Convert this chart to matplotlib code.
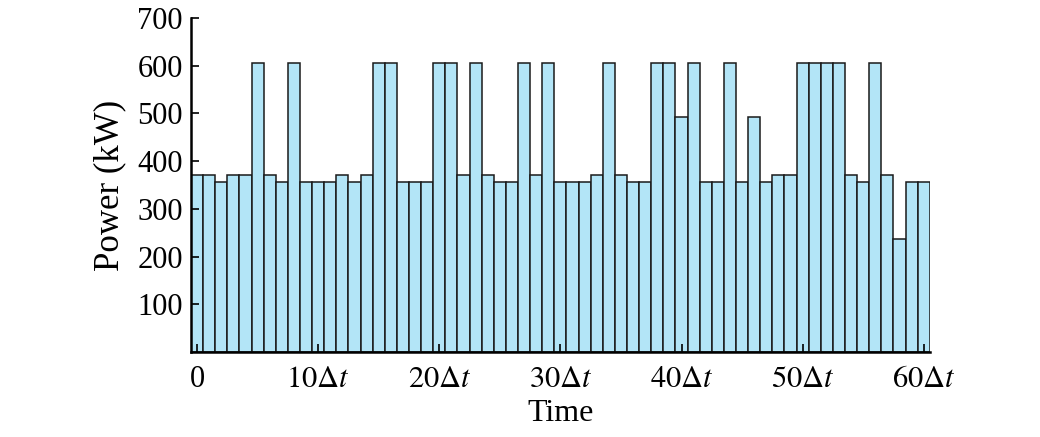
import matplotlib
matplotlib.use("Agg")
import matplotlib.pyplot as plt

plt.rcParams['font.family'] = ['Liberation Serif', 'DejaVu Serif']
plt.rcParams['mathtext.fontset'] = 'stix'

steps = list(range(61))
power = [370, 370, 357, 370, 370, 605, 370, 357, 605, 357,
         357, 357, 370, 357, 370, 605, 605, 357, 357, 357,
         605, 605, 370, 605, 370, 357, 357, 605, 370, 605,
         357, 357, 357, 370, 605, 370, 357, 357, 605, 605,
         492, 605, 357, 357, 605, 357, 492, 357, 370, 370,
         605, 605, 605, 605, 370, 357, 605, 370, 236, 357,
         357]
xtick_pos = [0, 10, 20, 30, 40, 50, 60]
xtick_labels = ['0', r'$10\Delta t$', r'$20\Delta t$', r'$30\Delta t$',
                r'$40\Delta t$', r'$50\Delta t$', r'$60\Delta t$']
yticks = [100, 200, 300, 400, 500, 600, 700]

fig = plt.figure(figsize=(10.4, 4.37), dpi=100)
ax = fig.add_axes([0.1837, 0.1945, 0.7103, 0.7643])
ax.bar(steps, power, width=1.0, color='#b3e5f7', edgecolor='#1a1a1a', linewidth=1.1)
ax.set_xlim(-0.5, 60.5)
ax.set_ylim(0, 700)
ax.set_xticks(xtick_pos)
ax.set_xticklabels(xtick_labels)
ax.set_yticks(yticks)
for s in ['top', 'right']:
    ax.spines[s].set_visible(False)
for s in ['left', 'bottom']:
    ax.spines[s].set_linewidth(1.8)
ax.tick_params(direction='in', length=6, width=1.2, labelsize=22)
ax.tick_params(axis='x', pad=9)
ax.tick_params(axis='y', pad=6)
ax.set_xlabel('Time', fontsize=23, labelpad=4)
ax.set_ylabel('Power (kW)', fontsize=25, labelpad=8)
fig.savefig('out.png', dpi=100)
